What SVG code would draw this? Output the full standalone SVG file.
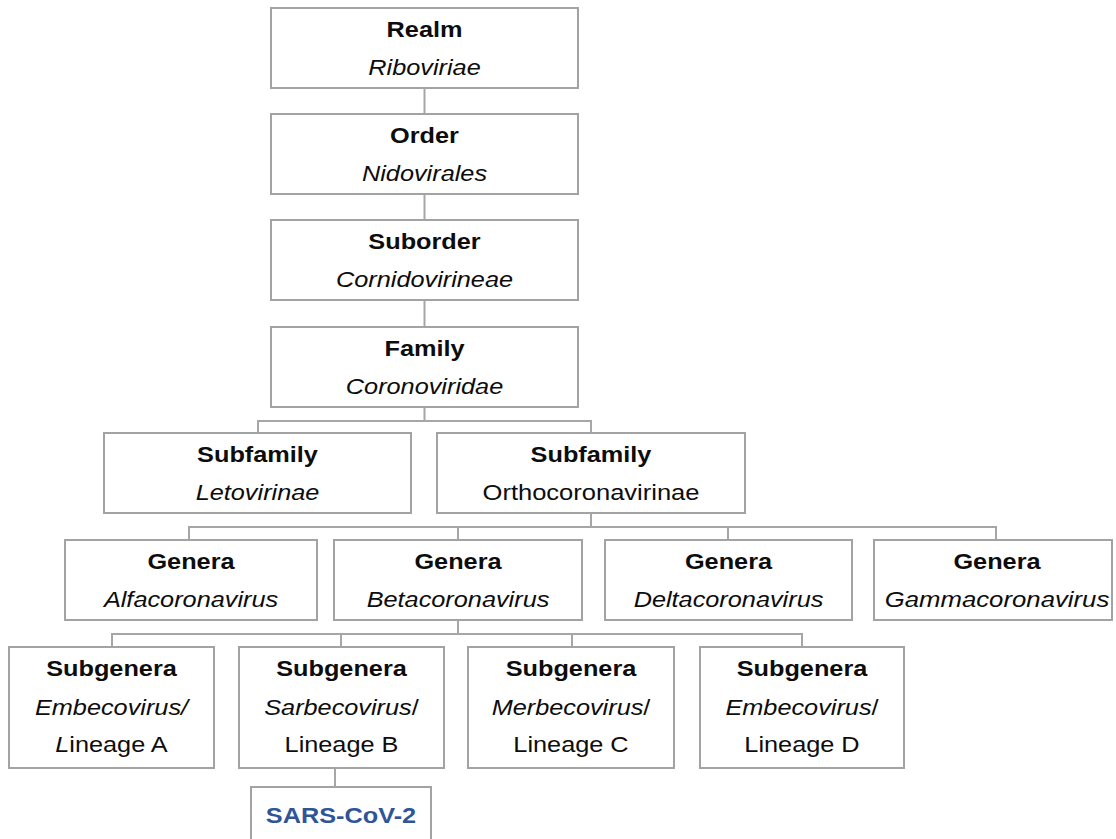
<svg xmlns="http://www.w3.org/2000/svg" width="1116" height="839" viewBox="0 0 1116 839">
<style>
  rect.box { fill: #ffffff; stroke: #a3a3a3; stroke-width: 2; }
  .conn path { fill: none; stroke: #a6a6a6; stroke-width: 2; }
  text { font-family: "Liberation Sans", Arial, sans-serif; font-size: 22px; fill: #0d0d0d; text-anchor: middle; }
  .b { font-weight: bold; }
  .i { font-style: italic; }
  .sars { font-weight: bold; fill: #2f5597; }
</style>
<rect width="1116" height="839" fill="#ffffff"/>
<g class="conn" id="connectors">
  <path d="M424.5,88 V114"/>
  <path d="M424.5,194 V220"/>
  <path d="M424.5,300 V327"/>
  <path d="M424.5,407 V421 M258,421 H591 M258,420 V433 M591,420 V433"/>
  <path d="M591,513 V527 M188,527 H996 M189,526 V540 M458,526 V540 M728,526 V540 M996,526 V540"/>
  <path d="M458,620 V634 M112,634 H802 M112,633 V647 M341,633 V647 M572,633 V647 M802,633 V647"/>
  <path d="M335,768 V787"/>
</g>
<g id="realm">
  <rect class="box" x="271" y="8" width="307" height="80"/>
  <text class="b" transform="translate(424.5 37) scale(1.15 1)">Realm</text>
  <text class="i" transform="translate(424.5 75) scale(1.15 1)">Riboviriae</text>
</g>
<g id="order">
  <rect class="box" x="271" y="114" width="307" height="80"/>
  <text class="b" transform="translate(424.5 143) scale(1.15 1)">Order</text>
  <text class="i" transform="translate(424.5 181) scale(1.15 1)">Nidovirales</text>
</g>
<g id="suborder">
  <rect class="box" x="271" y="220" width="307" height="80"/>
  <text class="b" transform="translate(424.5 249) scale(1.15 1)">Suborder</text>
  <text class="i" transform="translate(424.5 287) scale(1.15 1)">Cornidovirineae</text>
</g>
<g id="family">
  <rect class="box" x="271" y="327" width="307" height="80"/>
  <text class="b" transform="translate(424.5 356) scale(1.15 1)">Family</text>
  <text class="i" transform="translate(424.5 394) scale(1.15 1)">Coronoviridae</text>
</g>
<g id="subfamily-leto">
  <rect class="box" x="104" y="433" width="307" height="80"/>
  <text class="b" transform="translate(257.5 462) scale(1.15 1)">Subfamily</text>
  <text class="i" transform="translate(257.5 500) scale(1.15 1)">Letovirinae</text>
</g>
<g id="subfamily-ortho">
  <rect class="box" x="437" y="433" width="308" height="80"/>
  <text class="b" transform="translate(591 462) scale(1.15 1)">Subfamily</text>
  <text transform="translate(591 500) scale(1.16 1)">Orthocoronavirinae</text>
</g>
<g id="genera-alfa">
  <rect class="box" x="65" y="540" width="252" height="80"/>
  <text class="b" transform="translate(191 569) scale(1.15 1)">Genera</text>
  <text class="i" transform="translate(191 607) scale(1.15 1)">Alfacoronavirus</text>
</g>
<g id="genera-beta">
  <rect class="box" x="334" y="540" width="248" height="80"/>
  <text class="b" transform="translate(458 569) scale(1.15 1)">Genera</text>
  <text class="i" transform="translate(458 607) scale(1.15 1)">Betacoronavirus</text>
</g>
<g id="genera-delta">
  <rect class="box" x="605" y="540" width="247" height="80"/>
  <text class="b" transform="translate(728.5 569) scale(1.15 1)">Genera</text>
  <text class="i" transform="translate(728.5 607) scale(1.15 1)">Deltacoronavirus</text>
</g>
<g id="genera-gamma">
  <rect class="box" x="874" y="540" width="238" height="80"/>
  <text class="b" transform="translate(997 569) scale(1.15 1)">Genera</text>
  <text class="i" transform="translate(997 607) scale(1.17 1)">Gammacoronavirus</text>
</g>
<g id="subgenera-a">
  <rect class="box" x="9" y="647" width="205" height="121"/>
  <text class="b" transform="translate(111.5 676) scale(1.15 1)">Subgenera</text>
  <text class="i" transform="translate(111.5 715) scale(1.15 1)">Embecovirus/</text>
  <text transform="translate(111.5 752) scale(1.15 1)"><tspan class="i">L</tspan>ineage A</text>
</g>
<g id="subgenera-b">
  <rect class="box" x="239" y="647" width="205" height="121"/>
  <text class="b" transform="translate(341.5 676) scale(1.15 1)">Subgenera</text>
  <text transform="translate(341.5 715) scale(1.15 1)"><tspan class="i">Sarbecovirus</tspan>/</text>
  <text transform="translate(341.5 752) scale(1.15 1)">Lineage B</text>
</g>
<g id="subgenera-c">
  <rect class="box" x="468" y="647" width="206" height="121"/>
  <text class="b" transform="translate(571 676) scale(1.15 1)">Subgenera</text>
  <text transform="translate(571 715) scale(1.15 1)"><tspan class="i">Merbecovirus</tspan>/</text>
  <text transform="translate(571 752) scale(1.15 1)">Lineage C</text>
</g>
<g id="subgenera-d">
  <rect class="box" x="700" y="647" width="204" height="121"/>
  <text class="b" transform="translate(802 676) scale(1.15 1)">Subgenera</text>
  <text transform="translate(802 715) scale(1.15 1)"><tspan class="i">Embecovirus</tspan>/</text>
  <text transform="translate(802 752) scale(1.15 1)">Lineage D</text>
</g>
<g id="sars-cov-2">
  <rect class="box" x="251" y="787" width="180" height="70"/>
  <text class="sars" transform="translate(341 823) scale(1.15 1)">SARS-CoV-2</text>
</g>
</svg>
